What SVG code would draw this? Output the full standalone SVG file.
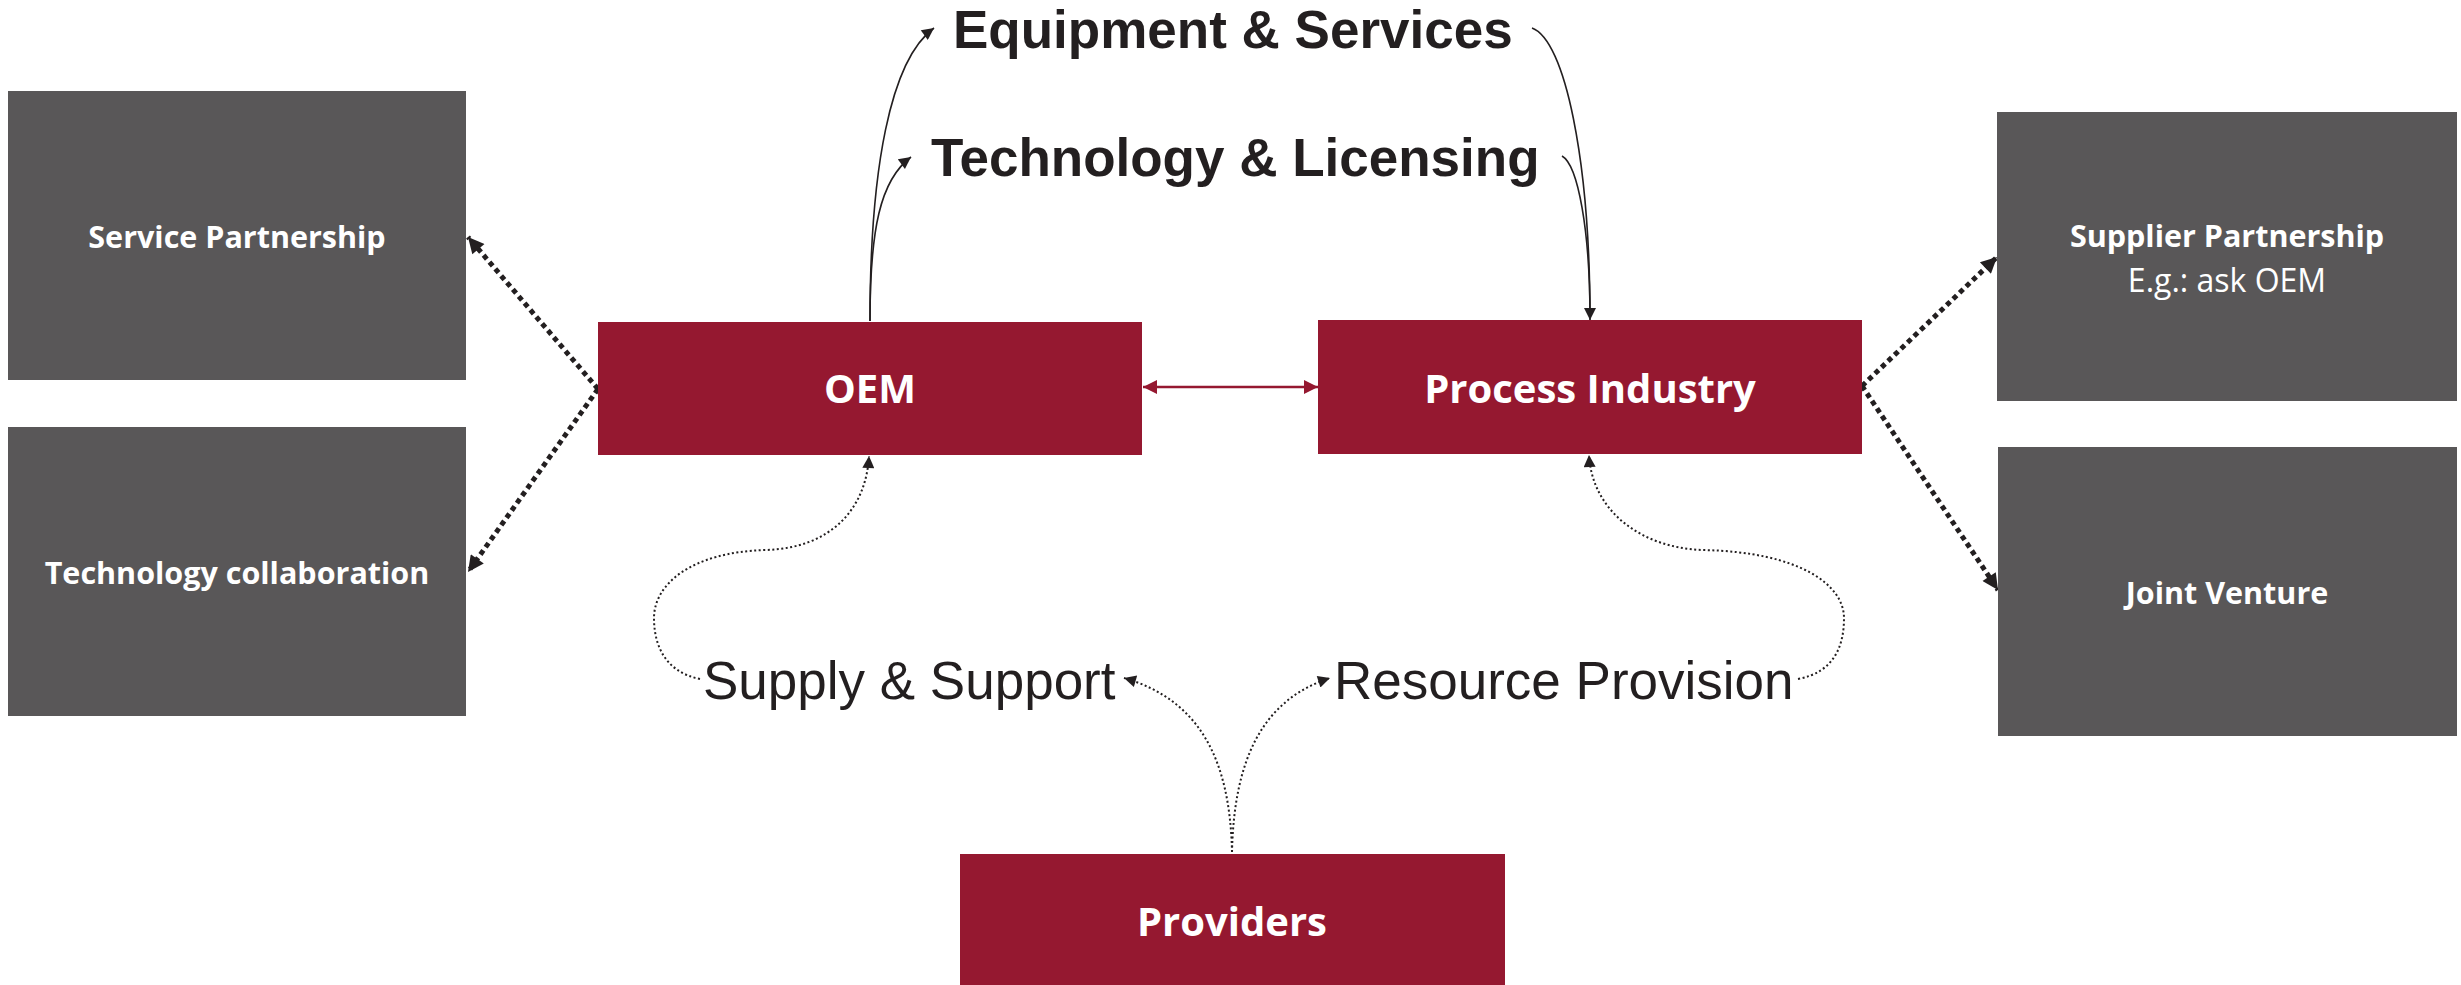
<svg xmlns="http://www.w3.org/2000/svg" width="2461" height="985" viewBox="0 0 2461 985">
<style>
.gray{fill:#595758}
.red{fill:#951830}
.lb{font-family:"Open Sans","Liberation Sans",sans-serif;font-weight:bold;fill:#ffffff;text-anchor:middle}
.gl{font-size:30.5px}
.rl{font-size:40px}
.lr{font-family:"Open Sans","Liberation Sans",sans-serif;font-size:32px;fill:#ffffff;text-anchor:middle}
.big{font-family:"Liberation Sans",Arial,sans-serif;font-size:53px;fill:#231f20}
.bold{font-weight:bold}
.solid{fill:none;stroke:#231f20;stroke-width:1.6}
.thick{fill:none;stroke:#231f20;stroke-width:5;stroke-dasharray:5 4}
.dot{fill:none;stroke:#231f20;stroke-width:2;stroke-dasharray:2 2.5}
.redl{fill:none;stroke:#951830;stroke-width:2.5}
</style>
<defs>
<marker id="ah" viewBox="0 0 10 10" refX="10" refY="5" markerWidth="18" markerHeight="12" markerUnits="userSpaceOnUse" orient="auto"><path d="M0,0 L10,5 L0,10 z" fill="#231f20"/></marker>
<marker id="ahb" viewBox="0 0 10 10" refX="10" refY="5" markerWidth="22" markerHeight="16" markerUnits="userSpaceOnUse" orient="auto"><path d="M0,0 L10,5 L0,10 z" fill="#231f20"/></marker>
<marker id="ahr" viewBox="0 0 10 10" refX="10" refY="5" markerWidth="14" markerHeight="14" markerUnits="userSpaceOnUse" orient="auto-start-reverse"><path d="M0,0 L10,5 L0,10 z" fill="#951830"/></marker>
</defs>
<rect width="2461" height="985" fill="#ffffff"/>

<g id="connectors">
<path class="solid" d="M870,321 C870,170 890,60 934,28" marker-end="url(#ah)"/>
<path class="solid" d="M870,321 C870,230 880,180 911,157" marker-end="url(#ah)"/>
<path class="solid" d="M1532,28 C1565,40 1590,160 1590,320" marker-end="url(#ah)"/>
<path class="solid" d="M1562,156 C1578,165 1590,230 1590,318"/>
<path class="redl" d="M1143,387 L1318,387" marker-start="url(#ahr)" marker-end="url(#ahr)"/>
<path class="thick" d="M598,389 L468,237" marker-end="url(#ahb)"/>
<path class="thick" d="M598,389 L468,572" marker-end="url(#ahb)"/>
<path class="thick" d="M1862,386 L1997,257" marker-end="url(#ahb)"/>
<path class="thick" d="M1862,386 L1998,590" marker-end="url(#ahb)"/>
<path class="dot" d="M700,679 C665,672 654,645 654,618 C654,585 690,552 766,550 C830,548 866,510 869,456" marker-end="url(#ah)"/>
<path class="dot" d="M1798,679 C1835,672 1844,645 1844,618 C1844,585 1800,552 1703,550 C1640,548 1592,510 1589,455" marker-end="url(#ah)"/>
<path class="dot" d="M1232,852 C1230,760 1200,700 1124,678" marker-end="url(#ah)"/>
<path class="dot" d="M1232,852 C1234,760 1262,700 1330,678" marker-end="url(#ah)"/>
</g>

<g id="label-equipment"><text class="big bold" x="953" y="48">Equipment &amp; Services</text></g>
<g id="label-technology"><text class="big bold" x="931" y="176">Technology &amp; Licensing</text></g>
<g id="label-supply"><text class="big" x="703" y="699">Supply &amp; Support</text></g>
<g id="label-resource"><text class="big" x="1334" y="699">Resource Provision</text></g>

<g id="service-partnership"><rect class="gray" x="8" y="91" width="458" height="289"/><text class="lb gl" x="237" y="248">Service Partnership</text></g>
<g id="technology-collaboration"><rect class="gray" x="8" y="427" width="458" height="289"/><text class="lb gl" x="237" y="584">Technology collaboration</text></g>
<g id="oem"><rect class="red" x="598" y="322" width="544" height="133"/><text class="lb rl" x="870" y="403">OEM</text></g>
<g id="process-industry"><rect class="red" x="1318" y="320" width="544" height="134"/><text class="lb rl" x="1590" y="403">Process Industry</text></g>
<g id="supplier-partnership"><rect class="gray" x="1997" y="112" width="460" height="289"/><text class="lb gl" x="2227" y="247">Supplier Partnership</text><text class="lr" x="2227" y="292">E.g.: ask OEM</text></g>
<g id="joint-venture"><rect class="gray" x="1998" y="447" width="459" height="289"/><text class="lb gl" x="2227" y="604">Joint Venture</text></g>
<g id="providers"><rect class="red" x="960" y="854" width="545" height="131"/><text class="lb rl" x="1232" y="936">Providers</text></g>
</svg>
